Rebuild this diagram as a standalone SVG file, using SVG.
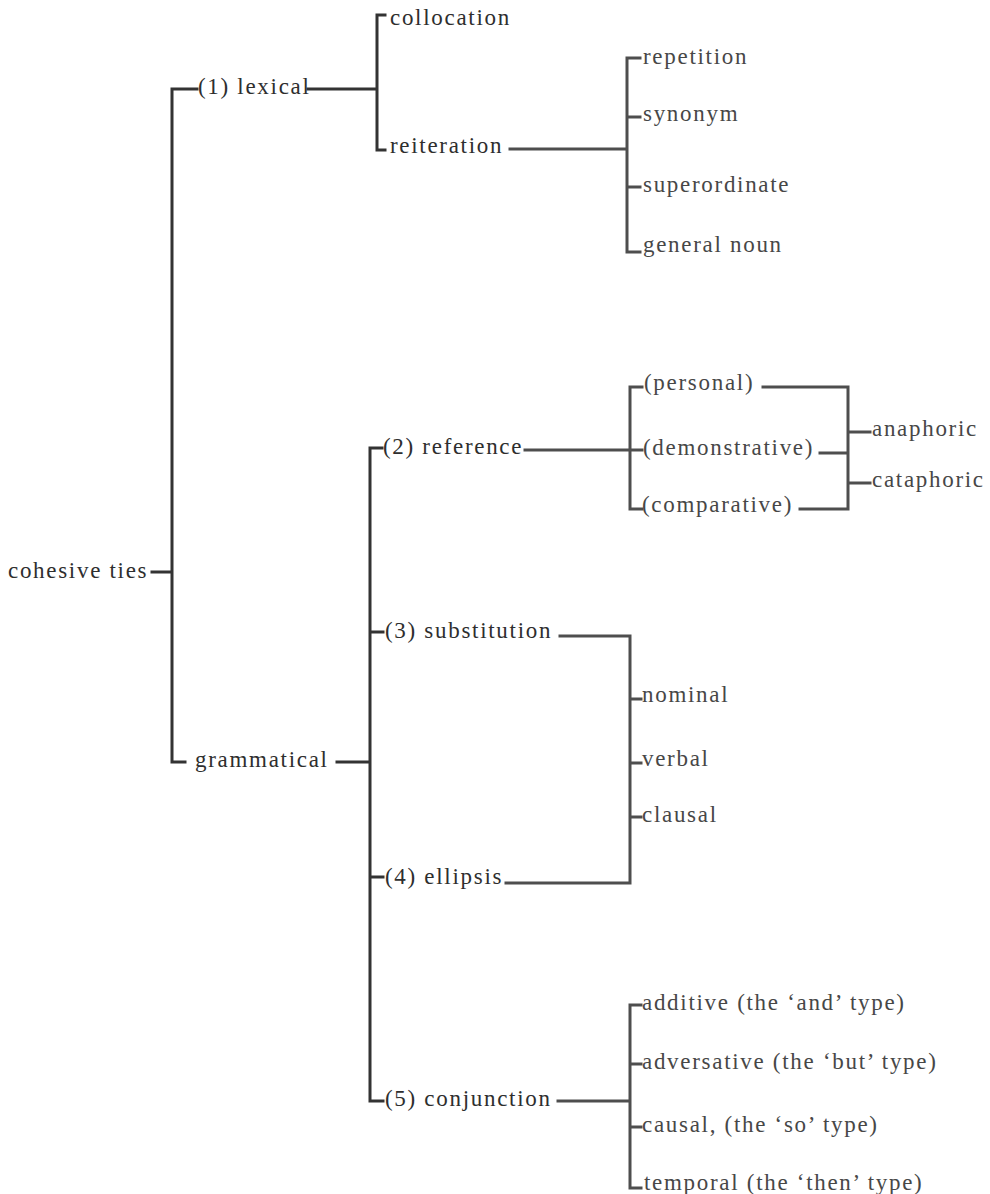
<svg xmlns="http://www.w3.org/2000/svg" width="990" height="1194" viewBox="0 0 990 1194">
  <style>
    text { font-family: "Liberation Serif", "Times New Roman", serif; font-size: 23px; letter-spacing: 1.7px; fill: #2e2e2e; }
    text.lt { fill: #474747; }
    .ln { fill: none; stroke: #333; stroke-width: 3; stroke-linecap: square; }
    .ln.lt { stroke: #4e4e4e; }
  </style>
  <rect width="990" height="1194" fill="#ffffff"/>

  <!-- bracket connectors -->
  <g id="connectors">
    <!-- root: cohesive ties -->
    <path class="ln" d="M152,572 H172 M172,89 V762 M172,89 H197 M172,762 H185"/>
    <!-- (1) lexical -->
    <path class="ln" d="M308,89 H377 M377,15 V150 M377,15 H385 M377,150 H385"/>
    <!-- reiteration -->
    <path class="ln lt" d="M510,149 H627 M627,58 V252 M627,58 H640 M627,117 H640 M627,187 H640 M627,252 H640"/>
    <!-- grammatical -->
    <path class="ln" d="M337,762 H370 M370,448 V1101 M370,448 H382 M370,632 H383 M370,877 H383 M370,1101 H383"/>
    <!-- (2) reference -->
    <path class="ln lt" d="M525,450 H630 M630,387 V509 M630,387 H642 M630,450 H642 M630,509 H642"/>
    <!-- reference sub-types to anaphoric / cataphoric -->
    <path class="ln lt" d="M763,387 H848 M820,453 H848 M800,509 H848 M848,387 V509 M848,432 H870 M848,483 H870"/>
    <!-- (3) substitution and (4) ellipsis -->
    <path class="ln lt" d="M560,636 H630 M506,883 H630 M630,636 V883 M630,699 H641 M630,763 H641 M630,817 H641"/>
    <!-- (5) conjunction -->
    <path class="ln lt" d="M558,1101 H630 M630,1005 V1188 M630,1005 H641 M630,1064 H641 M630,1127 H641 M630,1188 H641"/>
  </g>

  <g id="cohesive-ties"><text x="8" y="578">cohesive ties</text></g>
  <g id="lexical"><text x="198" y="94">(1) lexical</text></g>
  <g id="collocation"><text x="390" y="25">collocation</text></g>
  <g id="reiteration"><text x="390" y="153">reiteration</text></g>
  <g id="repetition"><text class="lt" x="643" y="64">repetition</text></g>
  <g id="synonym"><text class="lt" x="643" y="121">synonym</text></g>
  <g id="superordinate"><text class="lt" x="643" y="192">superordinate</text></g>
  <g id="general-noun"><text class="lt" x="643" y="252">general noun</text></g>

  <g id="grammatical"><text x="195" y="767">grammatical</text></g>
  <g id="reference"><text x="383" y="454">(2) reference</text></g>
  <g id="personal"><text class="lt" x="644" y="390">(personal)</text></g>
  <g id="demonstrative"><text class="lt" x="643" y="455">(demonstrative)</text></g>
  <g id="comparative"><text class="lt" x="642" y="512">(comparative)</text></g>
  <g id="anaphoric"><text class="lt" x="872" y="436">anaphoric</text></g>
  <g id="cataphoric"><text class="lt" x="872" y="487">cataphoric</text></g>

  <g id="substitution"><text x="385" y="638">(3) substitution</text></g>
  <g id="nominal"><text class="lt" x="642" y="702">nominal</text></g>
  <g id="verbal"><text class="lt" x="642" y="766">verbal</text></g>
  <g id="clausal"><text class="lt" x="642" y="822">clausal</text></g>
  <g id="ellipsis"><text x="385" y="884">(4) ellipsis</text></g>

  <g id="conjunction"><text x="385" y="1106">(5) conjunction</text></g>
  <g id="additive"><text class="lt" x="642" y="1010">additive (the ‘and’ type)</text></g>
  <g id="adversative"><text class="lt" x="642" y="1069">adversative (the ‘but’ type)</text></g>
  <g id="causal"><text class="lt" x="642" y="1132">causal, (the ‘so’ type)</text></g>
  <g id="temporal"><text class="lt" x="644" y="1190">temporal (the ‘then’ type)</text></g>
</svg>
